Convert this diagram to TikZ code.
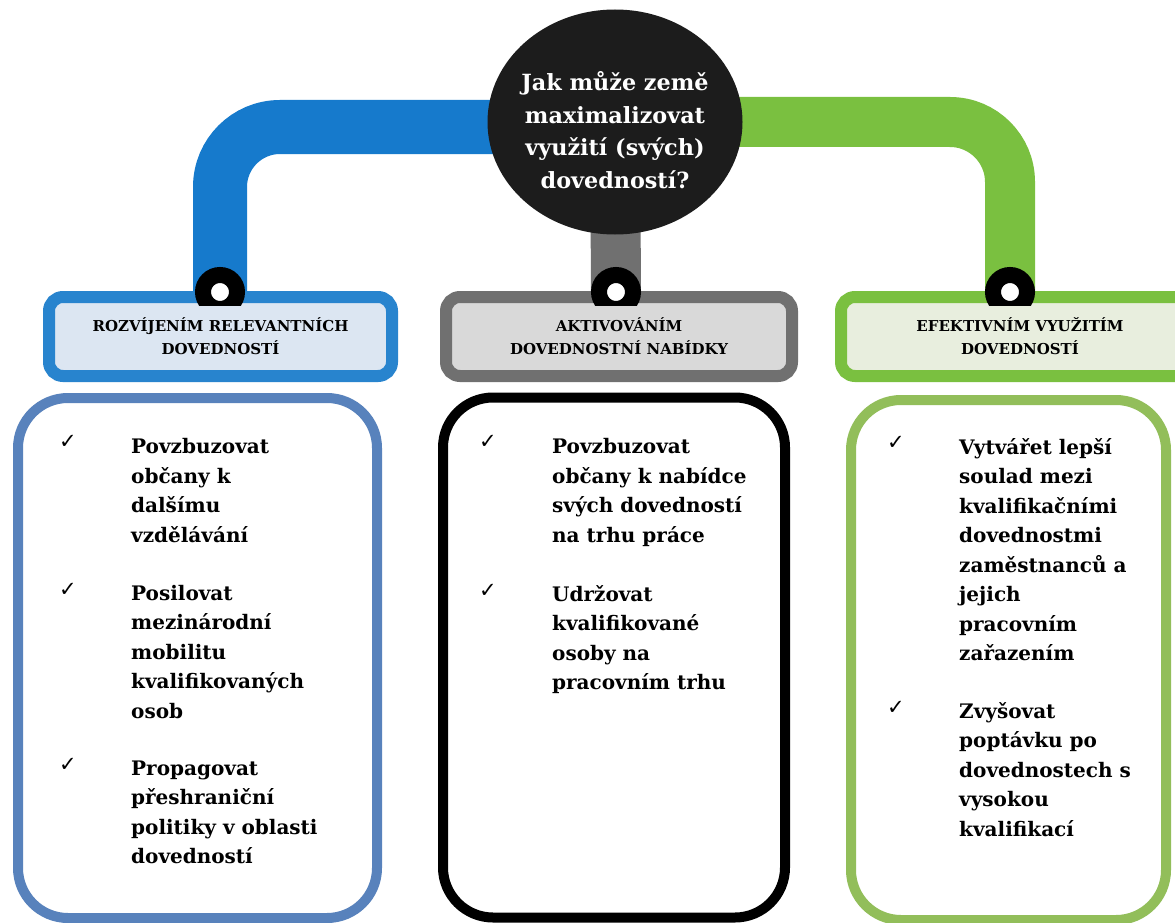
\documentclass[tikz,border=0pt]{standalone}
\usepackage{fontspec}
\setmainfont{DejaVu Serif}
\newfontfamily\tickfont{DejaVu Sans}
\usetikzlibrary{shapes.geometric,backgrounds,positioning}
\definecolor{pipeblue}{RGB}{22,122,204}
\definecolor{pipegrey}{RGB}{112,112,112}
\definecolor{pipegreen}{RGB}{122,192,64}
\definecolor{hdblueline}{RGB}{40,132,206}
\definecolor{hdbluefill}{RGB}{220,230,242}
\definecolor{hdgreyfill}{RGB}{217,217,217}
\definecolor{hdgreenfill}{RGB}{232,238,222}
\definecolor{boxblue}{RGB}{88,130,188}
\definecolor{boxgreen}{RGB}{146,190,90}
\definecolor{qblack}{RGB}{28,28,28}

\begin{document}
\begin{tikzpicture}[x=1pt,y=-1pt]
        \tikzstyle{pipe}=[line width=50pt, rounded corners=60pt]
        \tikzstyle{ring}=[circle, draw=black, fill=white, line width=16pt, inner sep=0pt, minimum size=34pt]
        \tikzstyle{head}=[rounded corners=14pt, line width=12pt, minimum height=79pt, align=center, inner sep=0pt, font=\bfseries\fontsize{15}{23}\selectfont]
        \tikzstyle{panel}=[rounded corners=50pt, line width=10pt, minimum height=520pt, inner sep=0pt]
        \tikzstyle{item}=[anchor=base west, align=left, inner sep=0pt, font=\bfseries\fontsize{20}{29.5}\selectfont]
        \tikzstyle{tick}=[inner sep=0pt, font=\tickfont\fontsize{21}{21}\selectfont]
        \useasboundingbox (0,0) rectangle (1175,923);

        % Question in the middle
        \node[ellipse, fill=qblack, minimum width=255pt, minimum height=225pt, inner sep=0pt] (question) at (615,122) {};
        \node[white, align=center, inner sep=0pt, font=\bfseries\fontsize{22.3}{32.5}\selectfont] (qtext) at ([yshift=-8pt]question.center) {Jak může země\\maximalizovat\\využití (svých)\\dovedností?};

        % Headings
        \node[head, draw=hdblueline, fill=hdbluefill, minimum width=343pt] (hdL) at (220.5,336.5) {ROZVÍJENÍM RELEVANTNÍCH\\DOVEDNOSTÍ};
        \node[head, draw=pipegrey, fill=hdgreyfill, minimum width=346pt] (hdM) at (619,336.5) {AKTIVOVÁNÍM\\DOVEDNOSTNÍ NABÍDKY};
        \node[head, draw=pipegreen, fill=hdgreenfill, minimum width=358pt] (hdR) at (1020,336.5) {EFEKTIVNÍM VYUŽITÍM\\DOVEDNOSTÍ};

        % Rings on top of the headings
        \begin{scope}
            \clip (0,250) rectangle (1175,305);
            \node[ring] (ringL) at (220,292) {};
            \node[ring] (ringM) at (616,292) {};
            \node[ring] (ringR) at (1010,292) {};
        \end{scope}

        % Pipes from the question down to the rings
        \begin{pgfonlayer}{background}
            \fill[white] (0,0) rectangle (1175,923);
            \draw[pipe, pipeblue, line width=54pt] (ringL.center) |- ([yshift=-5pt]question.center);
            \draw[pipe, pipegrey] (ringM.center) -- (question.center);
            \draw[pipe, pipegreen] (ringR.center) |- (question.center);
        \end{pgfonlayer}

        % Panels
        \node[panel, draw=boxblue, minimum width=359pt] (pnL) at (197.5,658) {};
        \node[panel, draw=black, minimum width=342pt] (pnM) at (614,657.5) {};
        \node[panel, draw=boxgreen, minimum width=315pt] (pnR) at (1008.5,660) {};

        % Left panel (items placed at the baseline of their last line)
        \node[tick] at (68,442) {✓};
        \node[item] (l1) at (131,542) {Povzbuzovat\\občany k\\dalšímu\\vzdělávání};
        \node[tick] at (68,590) {✓};
        \node[item] (l2) at (131,718) {Posilovat\\mezinárodní\\mobilitu\\kvalifikovaných\\osob};
        \node[tick] at (68,765) {✓};
        \node[item] (l3) at (131,863.5) {Propagovat\\přeshraniční\\politiky v oblasti\\dovedností};

        % Middle panel
        \node[tick] at (488,442) {✓};
        \node[item] (m1) at (552,542) {Povzbuzovat\\občany k nabídce\\svých dovedností\\na trhu práce};
        \node[tick] at (488,591) {✓};
        \node[item] (m2) at (552,689.5) {Udržovat\\kvalifikované\\osoby na\\pracovním trhu};

        % Right panel
        \node[tick] at (896,443) {✓};
        \node[item] (r1) at (959,660.5) {Vytvářet lepší\\soulad mezi\\kvalifikačními\\dovednostmi\\zaměstnanců a\\jejich\\pracovním\\zařazením};
        \node[tick] at (896,708) {✓};
        \node[item] (r2) at (959,836) {Zvyšovat\\poptávku po\\dovednostech s\\vysokou\\kvalifikací};
\end{tikzpicture}
\end{document}
